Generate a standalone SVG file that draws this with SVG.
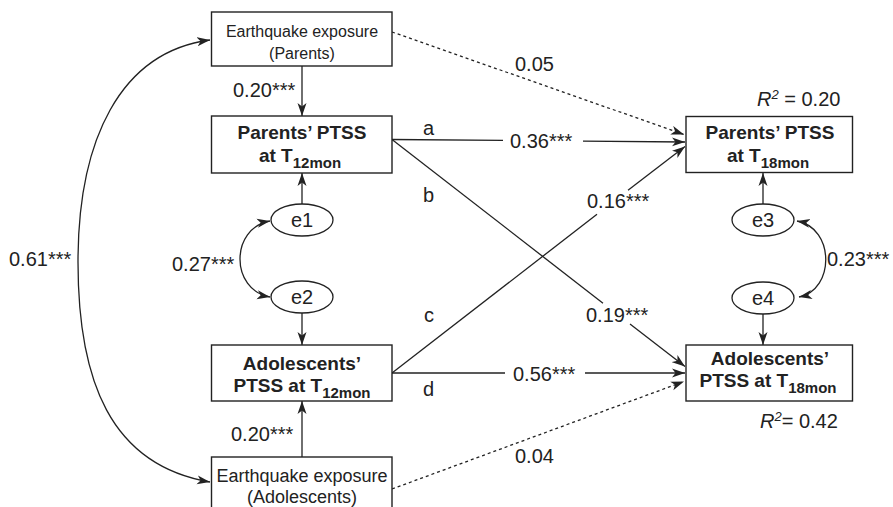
<svg xmlns="http://www.w3.org/2000/svg" width="893" height="507" viewBox="0 0 893 507">
<style>
  text { font-family: "Liberation Sans", Arial, sans-serif; fill: #222; }
  .box { fill: #fff; stroke: #222; stroke-width: 1.4; }
  .ell { fill: #fff; stroke: #222; stroke-width: 1.3; }
  .bold { font-weight: bold; font-size: 19px; }
  .sub { font-size: 15px; }
  .lbl { font-size: 20px; }
  .el { font-size: 20px; }
  .line { fill: none; stroke: #222; stroke-width: 1.3; }
  .dot { fill: none; stroke: #222; stroke-width: 1.3; stroke-dasharray: 3 3; }
</style>
<defs>
  <marker id="arr" markerUnits="userSpaceOnUse" markerWidth="14" markerHeight="10" refX="13" refY="5" orient="auto-start-reverse">
    <path d="M0,0.5 L13,5 L0,9.5 L3.5,5 Z" fill="#222"/>
  </marker>
</defs>
<rect width="893" height="507" fill="#fff"/>

<g id="connectors">
  <path class="line" d="M302,66 L302,116" marker-end="url(#arr)"/>
  <path class="line" d="M302,204 L302,173" marker-end="url(#arr)"/>
  <path class="line" d="M302,313 L302,345" marker-end="url(#arr)"/>
  <path class="line" d="M302,457 L302,401" marker-end="url(#arr)"/>
  <path class="line" d="M763,204 L763,173" marker-end="url(#arr)"/>
  <path class="line" d="M763,314 L763,345" marker-end="url(#arr)"/>
  <path class="line" d="M210,40 C120,52 78,140 78,262 C78,380 110,465 210,482" marker-start="url(#arr)" marker-end="url(#arr)"/>
  <path class="line" d="M270,221 C230,228 230,290 270,297" marker-start="url(#arr)" marker-end="url(#arr)"/>
  <path class="line" d="M797,221 C835,228 835,290 799,297" marker-start="url(#arr)" marker-end="url(#arr)"/>
  <path class="line" d="M392,139.5 L503,140.4"/>
  <path class="line" d="M583,141.1 L685,142" marker-end="url(#arr)"/>
  <path class="line" d="M392,139.5 L603,303.2"/>
  <path class="line" d="M630,324.1 L685,366.5" marker-end="url(#arr)"/>
  <path class="line" d="M392,373 L597,214.3"/>
  <path class="line" d="M628,190.3 L685,146.5" marker-end="url(#arr)"/>
  <path class="line" d="M392,373 L505,373"/>
  <path class="line" d="M585,373 L685,373" marker-end="url(#arr)"/>
  <path class="dot" d="M392,32 L684,134.5" marker-end="url(#arr)"/>
  <path class="dot" d="M392,489 L684,381.5" marker-end="url(#arr)"/>

  <text class="lbl" x="233" y="97">0.20***</text>
  <text class="lbl" x="231" y="441">0.20***</text>
  <text class="lbl" x="9" y="266">0.61***</text>
  <text class="lbl" x="172" y="271">0.27***</text>
  <text class="lbl" x="827" y="266">0.23***</text>
  <text class="lbl" x="515" y="71">0.05</text>
  <text class="lbl" x="515" y="463">0.04</text>
  <text class="lbl" x="510" y="148">0.36***</text>
  <text class="lbl" x="587" y="208">0.16***</text>
  <text class="lbl" x="586" y="322">0.19***</text>
  <text class="lbl" x="513" y="381">0.56***</text>
  <text class="lbl" x="423" y="135">a</text>
  <text class="lbl" x="423" y="202">b</text>
  <text class="lbl" x="424" y="322">c</text>
  <text class="lbl" x="423" y="396">d</text>
  <text class="lbl" x="757" y="106"><tspan font-style="italic">R</tspan><tspan font-size="13" font-style="italic" dy="-7">2</tspan><tspan dy="7"> = 0.20</tspan></text>
  <text class="lbl" x="760" y="428"><tspan font-style="italic">R</tspan><tspan font-size="13" font-style="italic" dy="-7">2</tspan><tspan dy="7">= 0.42</tspan></text>
</g>

<g id="n-exposure-parents">
  <rect class="box" x="211.5" y="12" width="180.5" height="54"/>
  <text x="302" y="37" font-size="16" text-anchor="middle">Earthquake exposure</text>
  <text x="302" y="59" font-size="16" text-anchor="middle">(Parents)</text>
</g>
<g id="n-parents-ptss-12">
  <rect class="box" x="211.5" y="116" width="180.5" height="57"/>
  <text class="bold" x="302" y="139" text-anchor="middle">Parents’ PTSS</text>
  <text class="bold" x="300" y="162" text-anchor="middle">at T<tspan class="sub" dy="5.5">12mon</tspan></text>
</g>
<g id="n-e1">
  <ellipse class="ell" cx="302" cy="220" rx="31" ry="16"/>
  <text class="el" x="302" y="227" text-anchor="middle">e1</text>
</g>
<g id="n-e2">
  <ellipse class="ell" cx="302" cy="297" rx="31" ry="16"/>
  <text class="el" x="302" y="304" text-anchor="middle">e2</text>
</g>
<g id="n-adolescents-ptss-12">
  <rect class="box" x="211.5" y="345" width="180.5" height="56"/>
  <text class="bold" x="302" y="370" text-anchor="middle">Adolescents’</text>
  <text class="bold" x="302" y="392" text-anchor="middle">PTSS at T<tspan class="sub" dy="5.5">12mon</tspan></text>
</g>
<g id="n-exposure-adolescents">
  <rect class="box" x="211.5" y="457" width="180.5" height="60"/>
  <text x="302" y="482" font-size="18" text-anchor="middle">Earthquake exposure</text>
  <text x="302" y="503" font-size="18" text-anchor="middle">(Adolescents)</text>
</g>
<g id="n-parents-ptss-18">
  <rect class="box" x="686" y="116.5" width="166.5" height="56"/>
  <text class="bold" x="770" y="138.5" text-anchor="middle">Parents’ PTSS</text>
  <text class="bold" x="768" y="162" text-anchor="middle">at T<tspan class="sub" dy="5.5">18mon</tspan></text>
</g>
<g id="n-e3">
  <ellipse class="ell" cx="763" cy="220" rx="31" ry="16"/>
  <text class="el" x="763" y="227" text-anchor="middle">e3</text>
</g>
<g id="n-e4">
  <ellipse class="ell" cx="763" cy="298" rx="31" ry="16"/>
  <text class="el" x="763" y="305" text-anchor="middle">e4</text>
</g>
<g id="n-adolescents-ptss-18">
  <rect class="box" x="686" y="345" width="166.5" height="56"/>
  <text class="bold" x="770" y="365" text-anchor="middle">Adolescents’</text>
  <text class="bold" x="768" y="387" text-anchor="middle">PTSS at T<tspan class="sub" dy="5.5">18mon</tspan></text>
</g>
</svg>
